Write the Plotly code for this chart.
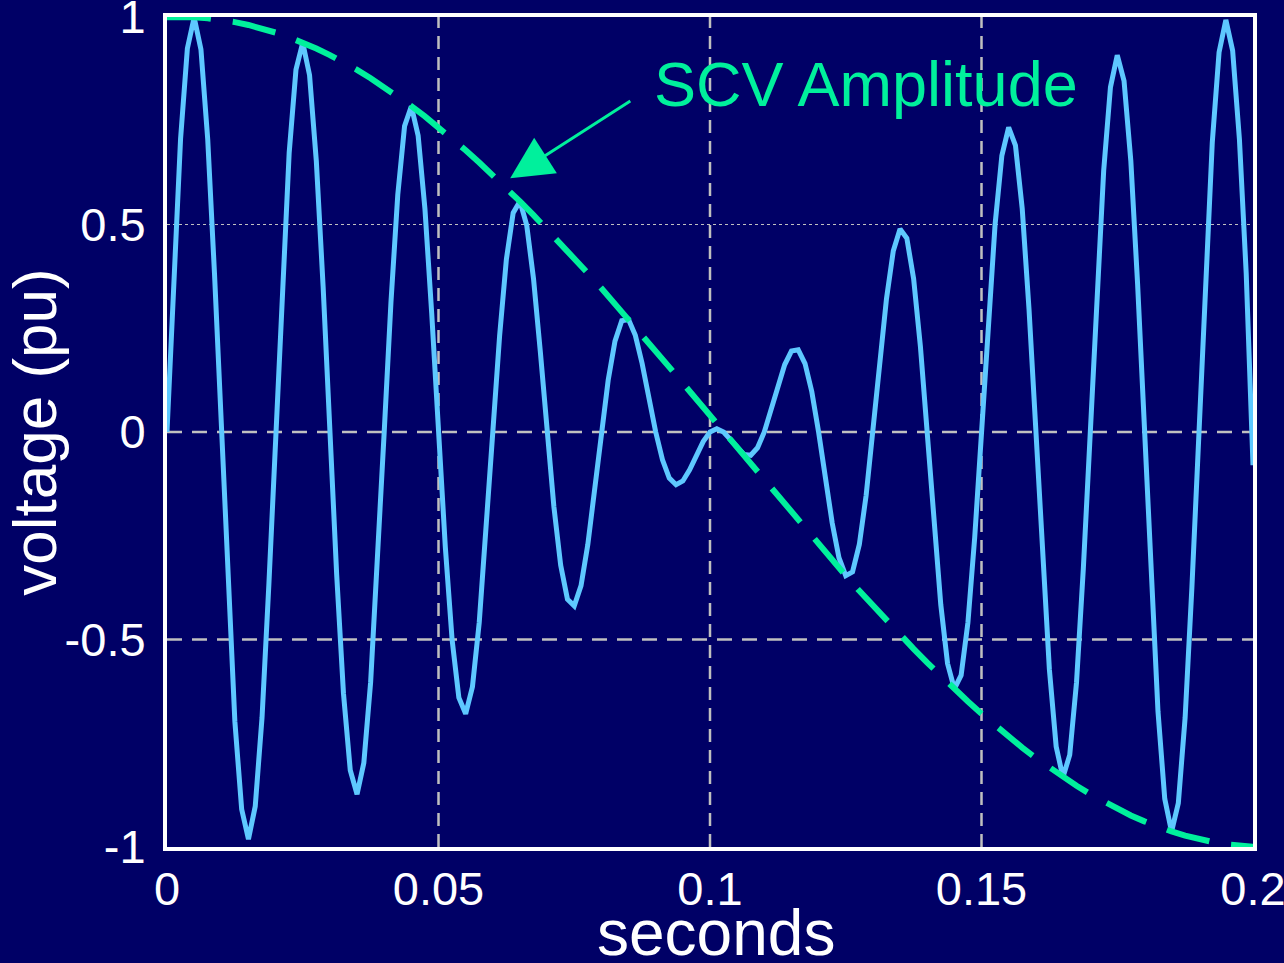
import plotly.graph_objects as go

# ---------------- data ----------------
SAMPLE_STEP = 0.00125  # seconds between samples of the voltage trace
voltage = [
    0, 0.383, 0.707, 0.924, 0.999, 0.922, 0.705, 0.381, 0, -0.379, -0.698, -0.909, -0.981, -0.902, -0.688, -0.370,
    0, 0.366, 0.673, 0.873, 0.938, 0.860, 0.653, 0.351, 0, -0.344, -0.630, -0.815, -0.873, -0.797, -0.603, -0.322,
    0, 0.314, 0.572, 0.737, 0.785, 0.714, 0.538, 0.286, 0, -0.276, -0.500, -0.640, -0.679, -0.614, -0.459, -0.243,
    0, 0.231, 0.416, 0.528, 0.556, 0.498, 0.369, 0.194, 0, -0.180, -0.321, -0.403, -0.419, -0.370, -0.271, -0.139,
    0, 0.125, 0.219, 0.268, 0.271, 0.233, 0.165, 0.082, 0, -0.067, -0.111, -0.127, -0.118, -0.091, -0.056, -0.023,
    0, 0.008, 0, -0.018, -0.039, -0.054, -0.056, -0.038, 0, 0.052, 0.111, 0.162, 0.195, 0.198, 0.165, 0.097,
    0, -0.111, -0.219, -0.303, -0.346, -0.337, -0.271, -0.153, 0, 0.167, 0.321, 0.436, 0.489, 0.467, 0.369, 0.206,
    0, -0.219, -0.416, -0.558, -0.619, -0.586, -0.459, -0.254, 0, 0.265, 0.500, 0.666, 0.734, 0.691, 0.538, 0.296,
    0, -0.305, -0.572, -0.758, -0.832, -0.778, -0.603, -0.330, 0, 0.338, 0.630, 0.831, 0.908, 0.846, 0.653, 0.356,
    0, -0.362, -0.673, -0.884, -0.963, -0.894, -0.688, -0.374, 0, 0.377, 0.698, 0.915, 0.993, 0.919, 0.705, 0.382,
    -0.08,
]
time_s = [round(i * SAMPLE_STEP, 6) for i in range(len(voltage))]

ENV_STEP = 0.0025  # seconds between samples of the SCV amplitude envelope
envelope = [
    0.9992, 1.0, 0.9992, 0.9969, 0.9931, 0.9877, 0.9808, 0.9724, 0.9625, 0.9511,
    0.9382, 0.9239, 0.9081, 0.8910, 0.8725, 0.8526, 0.8315, 0.8090, 0.7853, 0.7604,
    0.7344, 0.7071, 0.6788, 0.6494, 0.6191, 0.5878, 0.5556, 0.5225, 0.4886, 0.4540,
    0.4187, 0.3827, 0.3461, 0.3090, 0.2714, 0.2334, 0.1951, 0.1564, 0.1175, 0.0785,
    0.0393, 0.0, -0.0393, -0.0785, -0.1175, -0.1564, -0.1951, -0.2334, -0.2714, -0.3090,
    -0.3461, -0.3827, -0.4187, -0.4540, -0.4886, -0.5225, -0.5556, -0.5878, -0.6191, -0.6494,
    -0.6788, -0.7071, -0.7344, -0.7604, -0.7853, -0.8090, -0.8315, -0.8526, -0.8725, -0.8910,
    -0.9081, -0.9239, -0.9382, -0.9511, -0.9625, -0.9724, -0.9808, -0.9877, -0.9931, -0.9969,
    -0.9992,
]
env_time = [round(i * ENV_STEP, 6) for i in range(len(envelope))]

x_ticks = [0, 0.05, 0.1, 0.15, 0.2]
x_tick_labels = ["0", "0.05", "0.1", "0.15", "0.2"]
y_ticks = [-1, -0.5, 0, 0.5, 1]
y_tick_labels = ["-1", "-0.5", "0", "0.5", "1"]

x_title = "seconds"
y_title = "voltage (pu)"
annotation_text = "SCV Amplitude"
annotation_pos = (0.1287, 0.838)
arrow_head = (0.0632, 0.6116)
arrow_tail = (0.0856, 0.800)

# ---------------- styling ----------------
BG = "#000066"
SIGNAL = "#5EC8FF"
GREEN = "#00F09C"
GRID = "#C0C0C0"
FONT = "Liberation Sans, Arial, sans-serif"

fig = go.Figure()

fig.add_trace(go.Scatter(
    x=time_s, y=voltage, mode="lines",
    line=dict(color=SIGNAL, width=5),
    hoverinfo="skip", showlegend=False,
))
fig.add_trace(go.Scatter(
    x=env_time, y=envelope, mode="lines",
    line=dict(color=GREEN, width=6, dash="44px,22px"),
    hoverinfo="skip", showlegend=False,
))

shapes = []
for xv in x_ticks[1:-1]:
    shapes.append(dict(type="line", xref="x", yref="paper", x0=xv, x1=xv, y0=0, y1=1,
                       line=dict(color=GRID, width=2.5, dash="13px,8px"), layer="below"))
for yv in y_ticks[1:-1]:
    if yv == 0.5:
        shapes.append(dict(type="line", xref="paper", yref="y", x0=0, x1=1, y0=yv, y1=yv,
                           line=dict(color=GRID, width=1, dash="dot"), layer="below"))
    else:
        shapes.append(dict(type="line", xref="paper", yref="y", x0=0, x1=1, y0=yv, y1=yv,
                           line=dict(color=GRID, width=2.5, dash="15px,10px"), layer="below"))

annotations = [
    dict(x=annotation_pos[0], y=annotation_pos[1], xref="x", yref="y",
         text=annotation_text, showarrow=False, xanchor="center", yanchor="middle",
         font=dict(family=FONT, size=63, color=GREEN)),
    dict(x=arrow_head[0], y=arrow_head[1], xref="x", yref="y",
         ax=arrow_tail[0], ay=arrow_tail[1], axref="x", ayref="y",
         text="", showarrow=True, arrowhead=2, arrowsize=2.8, arrowwidth=3,
         arrowcolor=GREEN, standoff=0, startstandoff=0),
    # x-axis title, placed like the reference (partly below the page edge)
    dict(x=0.5055, y=-0.1036, xref="paper", yref="paper",
         text=x_title, showarrow=False, xanchor="center", yanchor="middle",
         font=dict(family=FONT, size=64, color="white")),
]

fig.update_layout(
    width=1284, height=963,
    paper_bgcolor=BG, plot_bgcolor=BG,
    margin=dict(l=167, r=31, t=17, b=116, autoexpand=False),
    font=dict(family=FONT, color="white"),
    shapes=shapes, annotations=annotations,
    showlegend=False,
)
fig.update_xaxes(
    range=[0, 0.2], tickvals=x_ticks, ticktext=x_tick_labels,
    showgrid=False, zeroline=False, showline=True, mirror=True,
    linecolor="white", linewidth=4, ticks="", automargin=False,
    tickfont=dict(family=FONT, size=47, color="white"),
    ticklabelstandoff=-2, ticklabeloverflow="allow",
)
fig.update_yaxes(
    range=[-1, 1], tickvals=y_ticks, ticktext=y_tick_labels,
    showgrid=False, zeroline=False, showline=True, mirror=True,
    linecolor="white", linewidth=4, ticks="", automargin=False,
    tickfont=dict(family=FONT, size=47, color="white"),
    ticklabelstandoff=8, ticklabeloverflow="allow",
    title=dict(text=y_title, font=dict(family=FONT, size=62, color="white"), standoff=14),
)

fig.write_html(
    "out.html",
    config={"displayModeBar": False},
    post_script="document.body.style.margin='0';document.body.style.overflow='hidden';"
                "document.body.style.background='" + BG + "';",
)
